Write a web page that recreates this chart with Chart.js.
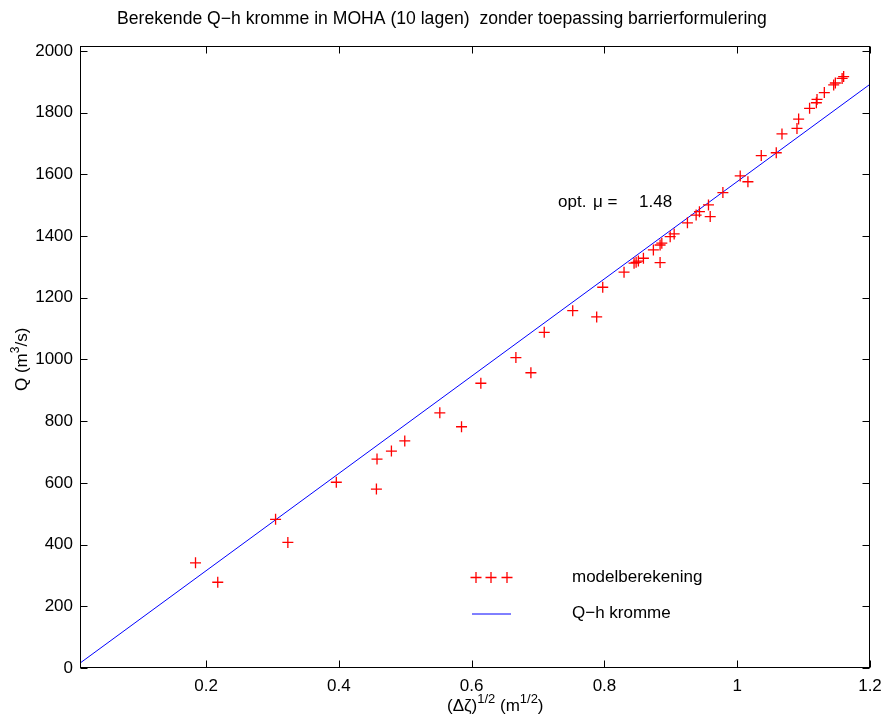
<!DOCTYPE html>
<html>
<head>
<meta charset="utf-8">
<script src="https://cdn.jsdelivr.net/npm/chart.js@4.4.1/dist/chart.umd.min.js"></script>
<style>
html,body{margin:0;padding:0;background:#fff;}
#wrap{width:894px;height:720px;position:relative;}
</style>
</head>
<body>
<div id="wrap"><canvas id="c" width="894" height="720"></canvas></div>
<script>
// ---- data ----
const modelX = [0.184,0.2175,0.3046,0.3231,0.3961,0.4565,0.4574,0.4791,0.4992,0.552,
  0.5847,0.6138,0.6666,0.6892,0.7093,0.7522,0.7883,0.7974,0.8295,0.8446,
  0.8477,0.8511,0.8587,0.8737,0.8838,0.8838,0.8864,0.899,0.905,0.925,
  0.9381,0.9431,0.9567,0.9593,0.9784,1.0045,1.0161,1.0362,1.0588,1.0674,
  1.090,1.0925,1.109,1.1192,1.1202,1.1312,1.1453,1.1478,1.158,1.1603];
const modelQ = [341,278,482,407,602,580,677,703,736,827,
  782,923,1006,957,1088,1158,1138,1234,1283,1312,
  1315,1319,1328,1355,1314,1371,1377,1398,1407,1443,
  1468,1479,1501,1463,1541,1595,1576,1661,1670,1731,
  1749,1779,1814,1832,1843,1865,1890,1896,1911,1917];
const curveX = [0.01, 1.2];
const curveQ = [15.8, 1892];
const xTicks = [0.2, 0.4, 0.6, 0.8, 1.0, 1.2];
const yTicks = [0, 200, 400, 600, 800, 1000, 1200, 1400, 1600, 1800, 2000];
const titleText = "Berekende Q\u2212h kromme in MOHA (10 lagen)  zonder toepassing barrierformulering";
const legendLabels = ["modelberekening", "Q\u2212h kromme"];
const muLabel = "opt. \u03bc =";
const muValue = "1.48";

const FONT = "'Liberation Sans', Arial, Helvetica, sans-serif";

const deco = {
  id: 'deco',
  afterDraw(chart) {
    const {ctx, chartArea: a, scales: {x, y}} = chart;
    ctx.save();
    const L = Math.round(a.left) + 0.5, R = Math.round(a.right) - 0.5;
    const T = Math.round(a.top) + 0.5, B = Math.round(a.bottom) - 0.5;
    ctx.strokeStyle = '#000';
    ctx.lineWidth = 1;
    ctx.strokeRect(L, T, R - L, B - T);
    const tl = 7;
    ctx.beginPath();
    xTicks.forEach(v => {
      const p = Math.round(x.getPixelForValue(v)) + 0.5;
      ctx.moveTo(p, B); ctx.lineTo(p, B - tl);
      ctx.moveTo(p, T); ctx.lineTo(p, T + tl);
    });
    yTicks.forEach(v => {
      const p = Math.round(y.getPixelForValue(v)) + 0.5;
      ctx.moveTo(L, p); ctx.lineTo(L + tl, p);
      ctx.moveTo(R, p); ctx.lineTo(R - tl, p);
    });
    ctx.stroke();

    // title
    ctx.fillStyle = '#000';
    ctx.font = '17.6px ' + FONT;
    ctx.textAlign = 'center';
    ctx.textBaseline = 'alphabetic';
    ctx.fillText(titleText, 442, 24);

    // annotation
    ctx.font = '17px ' + FONT;
    ctx.textAlign = 'left';
    ctx.fillText("opt.", 558, 207);
    ctx.fillText("\u03bc =", 593, 207);
    ctx.fillText(muValue, 639, 207);

    // legend
    ctx.strokeStyle = '#ff0000';
    ctx.lineWidth = 1.3;
    [476, 491, 507].forEach(cx => {
      ctx.beginPath();
      ctx.moveTo(cx - 5.5, 577.5); ctx.lineTo(cx + 5.5, 577.5);
      ctx.moveTo(cx, 572); ctx.lineTo(cx, 583);
      ctx.stroke();
    });
    ctx.strokeStyle = '#0000ff';
    ctx.lineWidth = 1;
    ctx.beginPath();
    ctx.moveTo(472, 614); ctx.lineTo(511, 614);
    ctx.stroke();
    ctx.fillStyle = '#000';
    ctx.textBaseline = 'middle';
    ctx.fillText(legendLabels[0], 572, 577);
    ctx.fillText(legendLabels[1], 572, 613);

    // x axis title: (Δζ)^1/2 (m^1/2)
    ctx.textBaseline = 'alphabetic';
    let cx = 447; const by = 711;
    const big = '17px ' + FONT, small = '13px ' + FONT;
    const parts = [["(\u0394\u03b6)", big, 0], ["1/2", small, -8], [" (m", big, 0], ["1/2", small, -8], [")", big, 0]];
    parts.forEach(([t, f, dy]) => {
      ctx.font = f;
      ctx.fillText(t, cx, by + dy);
      cx += ctx.measureText(t).width;
    });

    // y axis title: Q (m^3/s)
    ctx.save();
    ctx.translate(27, 391);
    ctx.rotate(-Math.PI / 2);
    let px = 0;
    const yparts = [["Q (m", '17px ' + FONT, 0], ["3", '12px ' + FONT, -8], ["/s)", '17px ' + FONT, 0]];
    yparts.forEach(([t, f, dy]) => {
      ctx.font = f;
      ctx.fillText(t, px, dy);
      px += ctx.measureText(t).width;
    });
    ctx.restore();
    ctx.restore();
  }
};

new Chart(document.getElementById('c'), {
  type: 'scatter',
  data: {
    datasets: [
      {
        label: legendLabels[0],
        data: modelX.map((v, i) => ({x: v, y: modelQ[i]})),
        pointStyle: 'cross',
        pointRadius: 5.5,
        pointHoverRadius: 5.5,
        borderColor: '#ff0000',
        backgroundColor: '#ff0000',
        pointBorderWidth: 1.3,
        showLine: false
      },
      {
        label: legendLabels[1],
        type: 'line',
        data: curveX.map((v, i) => ({x: v, y: curveQ[i]})),
        borderColor: '#0000ff',
        borderWidth: 1,
        pointRadius: 0,
        showLine: true,
        fill: false
      }
    ]
  },
  options: {
    responsive: false,
    animation: false,
    layout: {padding: {left: 0, top: 46, right: 24, bottom: 0}},
    plugins: {legend: {display: false}, tooltip: {enabled: false}, title: {display: false}},
    scales: {
      x: {
        type: 'linear', min: 0.01, max: 1.2,
        grid: {display: false, drawTicks: false},
        border: {display: false},
        afterBuildTicks: s => { s.ticks = xTicks.map(v => ({value: v})); },
        afterFit: s => { s.height = 52; },
        ticks: {
          padding: 8, color: '#000', font: {family: FONT, size: 17},
          maxRotation: 0, autoSkip: false,
          callback: v => String(Math.round(v * 10) / 10)
        }
      },
      y: {
        type: 'linear', min: 0, max: 2016,
        grid: {display: false, drawTicks: false},
        border: {display: false},
        afterBuildTicks: s => { s.ticks = yTicks.map(v => ({value: v})); },
        afterFit: s => { s.width = 80; },
        ticks: {
          padding: 7, color: '#000', font: {family: FONT, size: 17},
          autoSkip: false,
          callback: v => String(v)
        }
      }
    }
  },
  plugins: [deco]
});
</script>
</body>
</html>
